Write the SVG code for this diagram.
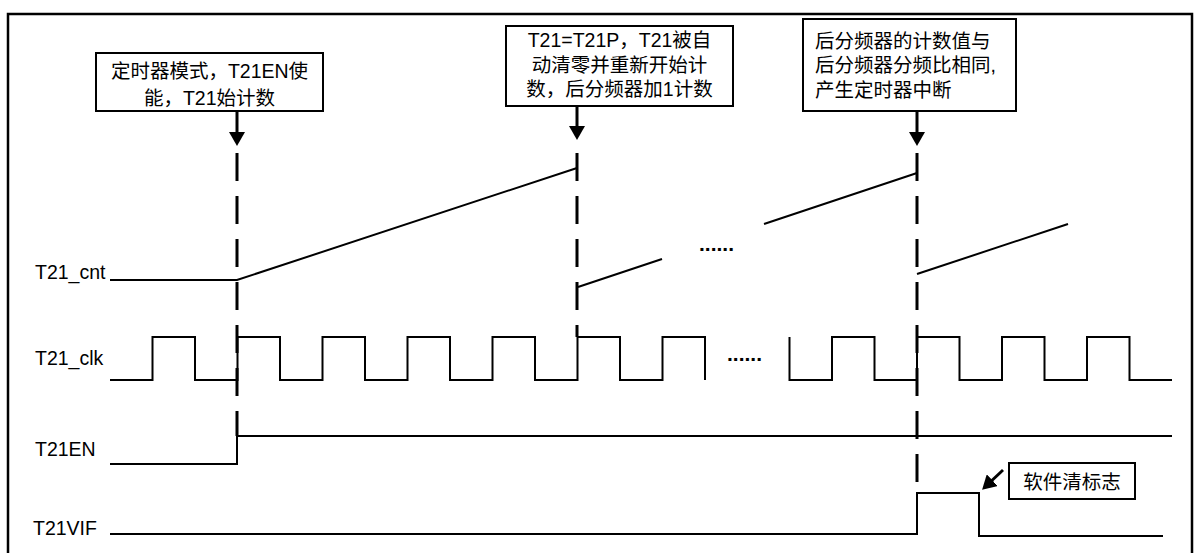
<svg xmlns="http://www.w3.org/2000/svg" width="1194" height="553" viewBox="0 0 1194 553">
<style>
text{font-family:"Liberation Sans","Noto Sans CJK SC",sans-serif;font-size:19.5px;fill:#000}
.dots{font-size:21px;font-weight:bold}
.box{fill:#fff;stroke:#000;stroke-width:2}
.sig{fill:none;stroke:#000;stroke-width:2}
.dash{fill:none;stroke:#000;stroke-width:3;stroke-dasharray:28 15}
.arr{fill:none;stroke:#000;stroke-width:3}
</style>
<defs>
<marker id="ah" viewBox="0 0 14 16" refX="10" refY="8" markerWidth="14" markerHeight="16" orient="auto" markerUnits="userSpaceOnUse">
<path d="M0,0 L14,8 L0,16 z" fill="#000"/>
</marker>
</defs>
<rect x="8" y="14" width="1184" height="560" fill="none" stroke="#000" stroke-width="2.5"/>
<g id="labels">
<text x="35" y="279">T21_cnt</text>
<text x="35" y="365">T21_clk</text>
<text x="35" y="456">T21EN</text>
<text x="33" y="535">T21VIF</text>
</g>
<g id="box1">
<rect class="box" x="96" y="53" width="227" height="58"/>
<text x="209.5" y="78" text-anchor="middle">定时器模式，T21EN使</text>
<text x="209.5" y="105" text-anchor="middle">能，T21始计数</text>
</g>
<g id="box2">
<rect class="box" x="506" y="26" width="227" height="80"/>
<text x="619.5" y="47" text-anchor="middle">T21=T21P，T21被自</text>
<text x="619.5" y="72" text-anchor="middle">动清零并重新开始计</text>
<text x="619.5" y="96" text-anchor="middle">数，后分频器加1计数</text>
</g>
<g id="box3">
<rect class="box" x="803" y="19" width="213" height="92"/>
<text x="815" y="48">后分频器的计数值与</text>
<text x="815" y="72">后分频器分频比相同,</text>
<text x="815" y="97">产生定时器中断</text>
</g>
<g id="box4">
<rect class="box" x="1009" y="463" width="126" height="36"/>
<text x="1072" y="489" text-anchor="middle">软件清标志</text>
</g>
<g id="connectors">
<line class="arr" x1="237" y1="111" x2="237" y2="142" marker-end="url(#ah)"/>
<line class="arr" x1="577" y1="106" x2="577" y2="136" marker-end="url(#ah)"/>
<line class="arr" x1="917" y1="111" x2="917" y2="142" marker-end="url(#ah)"/>
<line class="arr" x1="1003" y1="470" x2="985" y2="487" marker-end="url(#ah)"/>
<line class="dash" x1="237" y1="153" x2="237" y2="436"/>
<line class="dash" x1="577" y1="153" x2="577" y2="337"/>
<line class="dash" x1="917" y1="153" x2="917" y2="493"/>
</g>
<g id="cnt">
<path class="sig" d="M110,280 H237 L577,168"/>
<path class="sig" d="M578,287 L662,259"/>
<path class="sig" d="M764,224 L917,173"/>
<path class="sig" d="M917,274 L1068,224"/>
<text class="dots" x="699" y="251">......</text>
</g>
<g id="clk">
<path class="sig" d="M110,380 H152.5 V337 H195 V380 H237.5 V337 H280 V380 H322.5 V337 H365 V380 H407.5 V337 H450 V380 H492.5 V337 H535 V380 H577.5 V337 H620 V380 H662.5 V337 H705 V380"/>
<path class="sig" d="M789.5,337 V380 H832 V337 H874.5 V380 H917 V337 H959.5 V380 H1002 V337 H1044.5 V380 H1087 V337 H1129.5 V380 H1172"/>
<text class="dots" x="727" y="361">......</text>
</g>
<g id="en">
<path class="sig" d="M110,464 H237 V436 H1172"/>
</g>
<g id="vif">
<path class="sig" d="M110,534 H917 V493 H979 V536 H1163"/>
</g>
</svg>
